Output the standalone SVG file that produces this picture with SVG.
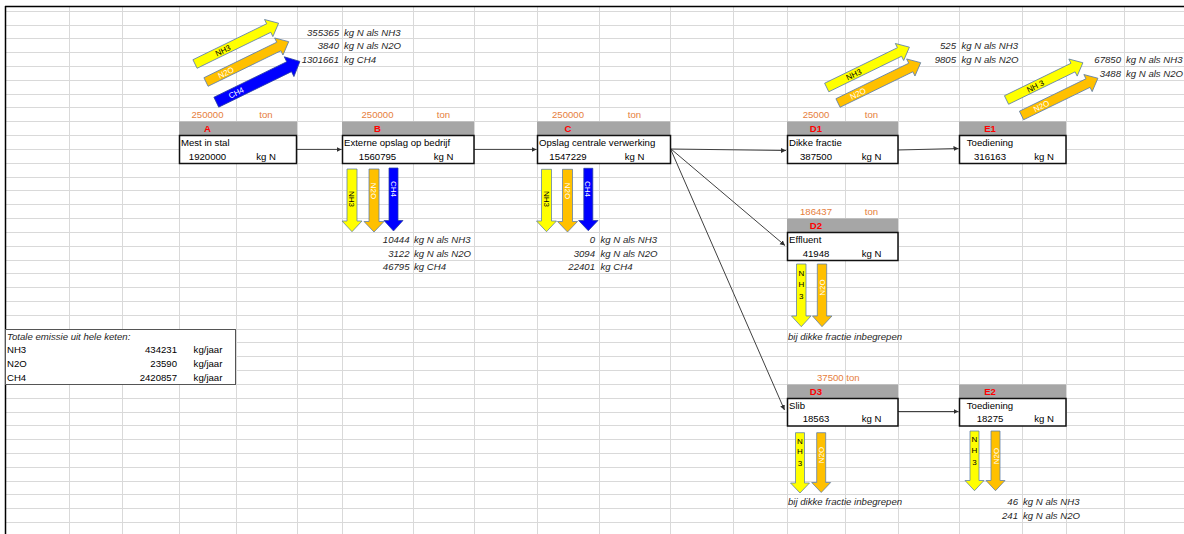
<svg xmlns="http://www.w3.org/2000/svg" width="1184" height="534" viewBox="0 0 1184 534">
<defs>
<style>
text{font-family:"Liberation Sans",Arial,sans-serif;font-size:9.6px;fill:#000}
.o{fill:#E67E3C}
.r{fill:#FF0000;font-weight:bold}
.i{font-style:italic;fill:#262626}
.m{text-anchor:middle}
.e{text-anchor:end}
.lab{font-size:8px}
.w{fill:#fff}
.bar{fill:#A6A6A6}
.box{fill:#fff;stroke:#111;stroke-width:1.5}
.grid{stroke:#D9D9D9;stroke-width:1;fill:none}
.yl{fill:#FFFF00;stroke:#5A7BAA;stroke-width:0.75}
.or{fill:#FFC000;stroke:#5A7BAA;stroke-width:0.75}
.bl{fill:#0000FF;stroke:#2A3FA0;stroke-width:0.75}
.con{stroke:#404040;stroke-width:1;fill:none;marker-end:url(#ah)}
</style>
<marker id="ah" markerWidth="6" markerHeight="6" refX="5" refY="3" orient="auto" markerUnits="userSpaceOnUse">
<path d="M0,0.5 L5,3 L0,5.5 Z" fill="#303030"/>
</marker>
<path id="da" d="M0,-4.75 L82,-4.75 L82,-9.5 L93,0 L82,9.5 L82,4.75 L0,4.75 Z"/>
</defs>
<rect width="1184" height="534" fill="#fff"/>
<g id="grid">
<path class="grid" d="M5,11.5H1184M5,25.5H1184M5,38.5H1184M5,52.5H1184M5,66.5H1184M5,80.5H1184M5,94.5H1184M5,107.5H1184M5,121.5H1184M5,135.5H1184M5,149.5H1184M5,163.5H1184M5,177.5H1184M5,190.5H1184M5,204.5H1184M5,218.5H1184M5,232.5H1184M5,246.5H1184M5,260.5H1184M5,273.5H1184M5,287.5H1184M5,301.5H1184M5,315.5H1184M5,329.5H1184M5,342.5H1184M5,356.5H1184M5,370.5H1184M5,384.5H1184M5,398.5H1184M5,412.5H1184M5,425.5H1184M5,439.5H1184M5,453.5H1184M5,467.5H1184M5,481.5H1184M5,494.5H1184M5,508.5H1184M5,522.5H1184"/>
<path class="grid" d="M69.5,6V534M122.5,6V534M179.5,6V534M236.5,6V534M297.5,6V534M342.5,6V534M413.5,6V534M474.5,6V534M537.5,6V534M599.5,6V534M670.5,6V534M733.5,6V534M787.5,6V534M845.5,6V534M898.5,6V534M959.5,6V534M1022.5,6V534M1066.5,6V534M1124.5,6V534"/>
<path d="M5,6.5H1184M5.5,6V534" stroke="#000" stroke-width="1.5" fill="none"/>
</g>

<g id="totals">
<rect x="5.5" y="329.5" width="230" height="55" fill="#fff" stroke="#555" stroke-width="1"/>
<text class="i" x="7" y="339.6">Totale emissie uit hele keten:</text>
<text x="7" y="353.4">NH3</text><text class="e" x="177" y="353.4">434231</text><text class="m" x="208" y="353.4">kg/jaar</text>
<text x="7" y="367.2">N2O</text><text class="e" x="177" y="367.2">23590</text><text class="m" x="208" y="367.2">kg/jaar</text>
<text x="7" y="381">CH4</text><text class="e" x="177" y="381">2420857</text><text class="m" x="208" y="381">kg/jaar</text>
</g>

<g id="connectors">
<line class="con" x1="297" y1="149.4" x2="341.5" y2="149.4"/>
<line class="con" x1="474" y1="149.4" x2="536.5" y2="149.4"/>
<line class="con" x1="671" y1="149" x2="786" y2="150.5"/>
<line class="con" x1="671" y1="149" x2="785" y2="245.5"/>
<line class="con" x1="671" y1="150" x2="784.5" y2="410"/>
<line class="con" x1="898" y1="150" x2="958.5" y2="148.5"/>
<line class="con" x1="898" y1="411.5" x2="958.5" y2="411.5"/>
</g>

<g id="emission-A">
<g transform="translate(195,64) rotate(-26)"><use href="#da" class="yl"/><text class="lab m" x="31" y="3">NH3</text></g>
<g transform="translate(206,82) rotate(-26)"><path class="or" d="M0,-4.75 L81,-4.75 L81,-9.5 L92,0 L81,9.5 L81,4.75 L0,4.75 Z"/><text class="lab m w" x="22" y="3">N2O</text></g>
<g transform="translate(216.3,102.2) rotate(-26)"><path class="bl" d="M0,-5.5 L81,-5.5 L81,-11 L93,0 L81,11 L81,5.5 L0,5.5 Z"/><text class="lab m w" x="22" y="3">CH4</text></g>
<text class="i e" x="339" y="35.5">355365</text><text class="i" x="344" y="35.5">kg N als NH3</text>
<text class="i e" x="339" y="49.3">3840</text><text class="i" x="344" y="49.3">kg N als N2O</text>
<text class="i e" x="339" y="63.1">1301661</text><text class="i" x="344" y="63.1">kg CH4</text>
</g>

<g id="node-A">
<text class="o m" x="207.5" y="118.4">250000</text><text class="o m" x="266" y="118.4">ton</text>
<rect class="bar" x="179" y="121.5" width="118" height="14"/>
<text class="r m" x="207.5" y="132.3">A</text>
<rect class="box" x="179.5" y="135.5" width="117" height="28"/>
<text x="181" y="146.1">Mest in stal</text>
<text class="m" x="207.5" y="159.9">1920000</text><text class="m" x="266" y="159.9">kg N</text>
</g>

<g id="node-B">
<text class="o m" x="377.5" y="118.4">250000</text><text class="o m" x="443.5" y="118.4">ton</text>
<rect class="bar" x="342" y="121.5" width="132" height="14"/>
<text class="r m" x="377.5" y="132.3">B</text>
<rect class="box" x="342.5" y="135.5" width="131.5" height="28"/>
<text x="344" y="146.1">Externe opslag op bedrijf</text>
<text class="m" x="377.5" y="159.9">1560795</text><text class="m" x="443.5" y="159.9">kg N</text>
</g>

<g id="emission-B">
<path class="yl" d="M347,169 H357 V221 H362 L352,231.7 L342,221 H347 Z"/>
<path class="or" d="M369,169 H379 V221.5 H384 L374,232 L364,221.5 H369 Z"/>
<path class="bl" d="M389,168 H398 V220.5 H403 L393.5,231 L384,220.5 H389 Z"/>
<text class="lab m" transform="translate(352,199) rotate(90)" dy="3">NH3</text>
<text class="lab m w" transform="translate(374,191) rotate(90)" dy="3">N2O</text>
<text class="lab m w" transform="translate(393.5,189) rotate(90)" dy="3">CH4</text>
<text class="i e" x="409.5" y="242.8">10444</text><text class="i" x="414" y="242.8">kg N als NH3</text>
<text class="i e" x="409.5" y="256.6">3122</text><text class="i" x="414" y="256.6">kg N als N2O</text>
<text class="i e" x="409.5" y="270.4">46795</text><text class="i" x="414" y="270.4">kg CH4</text>
</g>

<g id="node-C">
<text class="o m" x="568" y="118.4">250000</text><text class="o m" x="634.5" y="118.4">ton</text>
<rect class="bar" x="537" y="121.5" width="133" height="14"/>
<text class="r m" x="568" y="132.3">C</text>
<rect class="box" x="537.5" y="135.5" width="133" height="28"/>
<text x="539" y="146.1">Opslag centrale verwerking</text>
<text class="m" x="568" y="159.9">1547229</text><text class="m" x="634.5" y="159.9">kg N</text>
</g>

<g id="emission-C">
<path class="yl" d="M541.5,169.3 H551.5 V221 H556.5 L546.5,231.7 L536.5,221 H541.5 Z"/>
<path class="or" d="M562.5,169.3 H572.5 V221.5 H577.5 L567.5,232 L557.5,221.5 H562.5 Z"/>
<path class="bl" d="M583.8,168.3 H592.8 V220.5 H598 L588.3,230.7 L578.6,220.5 H583.8 Z"/>
<text class="lab m" transform="translate(546.5,199) rotate(90)" dy="3">NH3</text>
<text class="lab m w" transform="translate(567.5,191) rotate(90)" dy="3">N2O</text>
<text class="lab m w" transform="translate(588.3,189) rotate(90)" dy="3">CH4</text>
<text class="i e" x="595" y="242.8">0</text><text class="i" x="600.5" y="242.8">kg N als NH3</text>
<text class="i e" x="595" y="256.6">3094</text><text class="i" x="600.5" y="256.6">kg N als N2O</text>
<text class="i e" x="595" y="270.4">22401</text><text class="i" x="600.5" y="270.4">kg CH4</text>
</g>

<g id="node-D1">
<text class="o m" x="816" y="118.4">25000</text><text class="o m" x="871.5" y="118.4">ton</text>
<rect class="bar" x="787" y="121.5" width="111" height="14"/>
<text class="r m" x="816" y="132.3">D1</text>
<rect class="box" x="787.5" y="135.5" width="110.5" height="28"/>
<text x="789" y="146.1">Dikke fractie</text>
<text class="m" x="816" y="159.9">387500</text><text class="m" x="871.5" y="159.9">kg N</text>
</g>

<g id="emission-D1">
<g transform="translate(826.7,87.5) rotate(-26)"><path class="yl" d="M0,-4.75 L81,-4.75 L81,-9.5 L92,0 L81,9.5 L81,4.75 L0,4.75 Z"/><text class="lab m" x="30" y="3">NH3</text></g>
<g transform="translate(838,103) rotate(-26)"><path class="or" d="M0,-4.75 L81,-4.75 L81,-9.5 L92,0 L81,9.5 L81,4.75 L0,4.75 Z"/><text class="lab m w" x="22" y="3">N2O</text></g>
<text class="i e" x="956" y="49.4">525</text><text class="i" x="961.5" y="49.4">kg N als NH3</text>
<text class="i e" x="956" y="63.2">9805</text><text class="i" x="961.5" y="63.2">kg N als N2O</text>
</g>

<g id="node-E1">
<rect class="bar" x="959" y="121.5" width="107" height="14"/>
<text class="r m" x="990" y="132.3">E1</text>
<rect class="box" x="959.5" y="135.5" width="106.5" height="28"/>
<text class="m" x="990" y="146.1">Toediening</text>
<text class="m" x="990" y="159.9">316163</text><text class="m" x="1044" y="159.9">kg N</text>
</g>

<g id="emission-E1">
<g transform="translate(1006.5,100) rotate(-26)"><path class="yl" d="M0,-4.75 L74,-4.75 L74,-9.5 L85,0 L74,9.5 L74,4.75 L0,4.75 Z"/><text class="lab m" x="32" y="3">NH 3</text></g>
<g transform="translate(1021.5,115.5) rotate(-26)"><path class="or" d="M0,-4.75 L74,-4.75 L74,-9.5 L85,0 L74,9.5 L74,4.75 L0,4.75 Z"/><text class="lab m w" x="22" y="3">N2O</text></g>
<text class="i e" x="1121" y="63.2">67850</text><text class="i" x="1126" y="63.2">kg N als NH3</text>
<text class="i e" x="1121" y="77">3488</text><text class="i" x="1126" y="77">kg N als N2O</text>
</g>

<g id="node-D2">
<text class="o m" x="816" y="215.2">186437</text><text class="o m" x="871.5" y="215.2">ton</text>
<rect class="bar" x="787" y="218.5" width="111" height="14"/>
<text class="r m" x="816" y="229">D2</text>
<rect class="box" x="787.5" y="232.5" width="110.5" height="28"/>
<text x="789" y="242.8">Effluent</text>
<text class="m" x="816" y="256.6">41948</text><text class="m" x="871.5" y="256.6">kg N</text>
</g>

<g id="emission-D2">
<path class="yl" d="M796.5,264 H806 V316 H811 L801.3,326.7 L791.5,316 H796.5 Z"/>
<path class="or" d="M817.3,264 H826.7 V316 H832 L822,326.7 L812.5,316 H817.3 Z"/>
<text class="lab m" x="801.3" y="276.3">N</text><text class="lab m" x="801.3" y="287.3">H</text><text class="lab m" x="801.3" y="299">3</text>
<text class="lab m w" transform="translate(822,287.5) rotate(-90)" dy="3">N2O</text>
<text class="i" x="788" y="339.6">bij dikke fractie inbegrepen</text>
</g>

<g id="node-D3">
<text class="o" x="817" y="381">37500 ton</text>
<rect class="bar" x="787" y="384.5" width="111" height="14"/>
<text class="r m" x="816" y="394.8">D3</text>
<rect class="box" x="787.5" y="398.5" width="110.5" height="27.5"/>
<text x="789" y="408.6">Slib</text>
<text class="m" x="816" y="422.4">18563</text><text class="m" x="871.5" y="422.4">kg N</text>
</g>

<g id="emission-D3">
<path class="yl" d="M795.5,432.7 H804.5 V483 H809.5 L800,493 L790.5,483 H795.5 Z"/>
<path class="or" d="M816.7,432.7 H825.7 V482.5 H830.7 L821.2,492.5 L811.7,482.5 H816.7 Z"/>
<text class="lab m" x="800" y="444">N</text><text class="lab m" x="800" y="454">H</text><text class="lab m" x="800" y="466">3</text>
<text class="lab m w" transform="translate(821.2,455) rotate(-90)" dy="3">N2O</text>
<text class="i" x="788" y="505.4">bij dikke fractie inbegrepen</text>
</g>

<g id="node-E2">
<rect class="bar" x="959" y="384.5" width="107" height="14"/>
<text class="r m" x="990" y="394.8">E2</text>
<rect class="box" x="959.5" y="398.5" width="106.5" height="27.5"/>
<text class="m" x="990" y="408.6">Toediening</text>
<text class="m" x="990" y="422.4">18275</text><text class="m" x="1044" y="422.4">kg N</text>
</g>

<g id="emission-E2">
<path class="yl" d="M970,431 H979 V480.5 H984 L974.5,490.7 L965,480.5 H970 Z"/>
<path class="or" d="M991,431 H1000 V480.5 H1005 L995.5,490.7 L986,480.5 H991 Z"/>
<text class="lab m" x="974.5" y="442.3">N</text><text class="lab m" x="974.5" y="453">H</text><text class="lab m" x="974.5" y="464.7">3</text>
<text class="lab m w" transform="translate(995.5,456) rotate(-90)" dy="3">N2O</text>
<text class="i e" x="1018" y="505.4">46</text><text class="i" x="1023" y="505.4">kg N als NH3</text>
<text class="i e" x="1018" y="519.2">241</text><text class="i" x="1023" y="519.2">kg N als N2O</text>
</g>
</svg>
